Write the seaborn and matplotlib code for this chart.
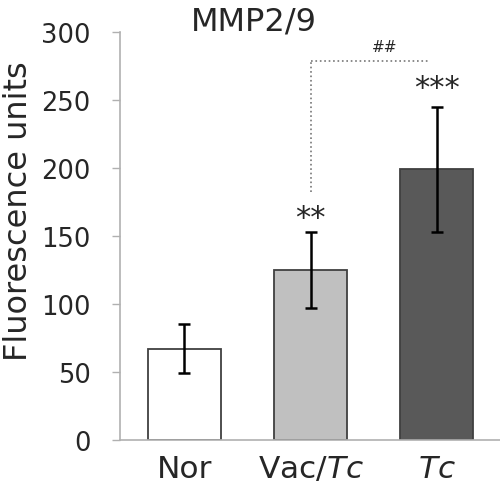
import matplotlib
matplotlib.use("Agg")
import matplotlib.pyplot as plt
import seaborn as sns
import pandas as pd

# values
groups = ["Nor", "Vac/Tc", "Tc"]
tick_labels = ["Nor", r"Vac/$\mathit{Tc}$", r"$\mathit{Tc}$"]
means = [67, 125, 199]
errors = [18, 28, 46]
stars = ["", "**", "***"]
star_y = [0, 157, 253]
bar_colors = ["#ffffff", "#c0c0c0", "#595959"]

sns.set_style("white")
plt.rcParams["font.family"] = ["DejaVu Sans"]
plt.rcParams["mathtext.fontset"] = "dejavusans"

data = pd.DataFrame({"group": groups, "value": means})

fig = plt.figure(figsize=(5, 4.85), dpi=100)
ax = fig.add_axes([0.24, 0.091, 0.76, 0.841])

sns.barplot(data=data, x="group", y="value", hue="group", palette=bar_colors,
            errorbar=None, width=0.58, edgecolor="#404040", linewidth=1.3,
            legend=False, ax=ax)
ax.errorbar(range(len(groups)), means, yerr=errors, fmt="none", ecolor="black",
            elinewidth=1.8, capsize=4, capthick=1.8)

for i, s in enumerate(stars):
    if s:
        ax.text(i, star_y[i], s, ha="center", va="baseline", fontsize=22)

# significance bracket between Vac/Tc and Tc
ax.plot([1, 1], [182, 279], color="#777777", linestyle=":", linewidth=1.2, clip_on=False)
ax.plot([1, 1.93], [279, 279], color="#777777", linestyle=":", linewidth=1.2, clip_on=False)
ax.text(1.59, 286, "##", ha="center", va="baseline", fontsize=11, clip_on=False)

ax.set_ylim(0, 300)
ax.set_xlim(-0.51, 2.5)
ax.set_yticks(range(0, 301, 50))
ax.tick_params(axis="y", labelsize=18.5, length=6, width=1, color="#b0b0b0",
               direction="out", left=True, pad=15)
ax.tick_params(axis="x", labelsize=22.5, length=0, pad=10)
ax.set_xticks(range(len(groups)))
ax.set_xticklabels(tick_labels)
ax.set_xlabel("")
ax.set_ylabel("Fluorescence units", fontsize=23)
ax.yaxis.set_label_coords(-0.225, 0.564)

sns.despine(ax=ax)
for side in ["left", "bottom"]:
    ax.spines[side].set_color("#b0b0b0")
    ax.spines[side].set_linewidth(1.2)

fig.text(0.508, 0.938, "MMP2/9", fontsize=23, ha="center", va="baseline")

fig.savefig("out.png", dpi=100)
